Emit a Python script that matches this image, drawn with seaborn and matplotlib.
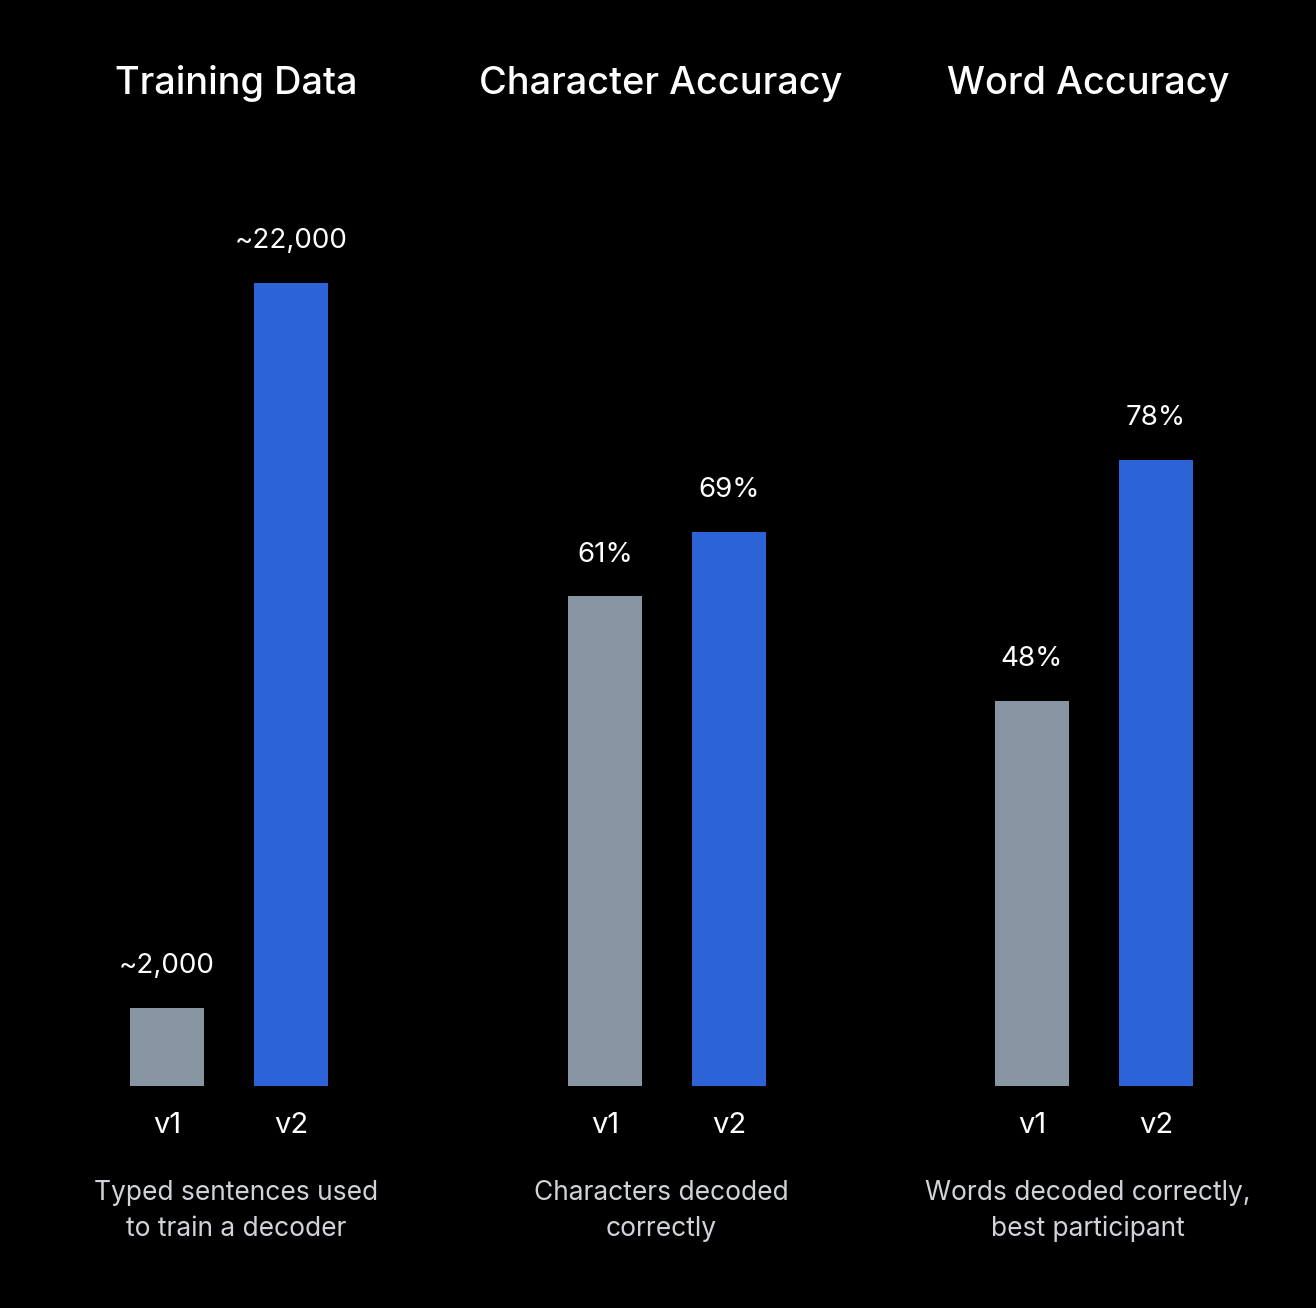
import matplotlib
matplotlib.use("Agg")
import matplotlib.pyplot as plt
import seaborn as sns
import pandas as pd

# data
versions = ['v1', 'v2']
panel_titles = ['Training Data', 'Character Accuracy', 'Word Accuracy']
panel_notes = ['Typed sentences used\nto train a decoder',
               'Characters decoded\ncorrectly',
               'Words decoded correctly,\nbest participant']
sentences = [2150, 22000]
char_acc = [61, 69]
word_acc = [48, 78]
sentences_labels = ['~2,000', '~22,000']
char_labels = ['61%', '69%']
word_labels = ['48%', '78%']
y_limits = [22000, 100, 100]

BG = '#000000'
GRAY = '#8895A2'
BLUE = '#2C64D8'
NOTE = '#D0D4D9'

sns.set_style("dark")
plt.rcParams['font.family'] = ['Inter', 'DejaVu Sans']
plt.rcParams['figure.facecolor'] = BG

W, H = 1316, 1308
fig = plt.figure(figsize=(W / 100, H / 100), dpi=100)

panel_values = [sentences, char_acc, word_acc]
panel_labels = [sentences_labels, char_labels, word_labels]
ax_lefts = [105, 543, 970]
text_centers = [236, 661, 1088]

ax_bottom = (H - 1086) / H
ax_height = (1086 - 283) / H
ax_width = 248 / W

for i in range(3):
    ax = fig.add_axes([ax_lefts[i] / W, ax_bottom, ax_width, ax_height])
    ax.set_facecolor(BG)
    df = pd.DataFrame({'version': versions, 'value': panel_values[i]})
    sns.barplot(data=df, x='version', y='value', hue='version',
                palette=[GRAY, BLUE], width=0.6, legend=False,
                saturation=1, linewidth=0, ax=ax)
    ax.set_xlim(-0.5, 1.5)
    ax.set_ylim(0, y_limits[i])
    ax.set_yticks([])
    ax.set_xlabel('')
    ax.set_ylabel('')
    ax.grid(False)
    for s in ax.spines.values():
        s.set_visible(False)
    ax.tick_params(axis='x', length=0, pad=19, labelsize=21, labelcolor='white')

    for j, v in enumerate(panel_values[i]):
        ax.annotate(panel_labels[i][j], (j, v), xytext=(0, 30),
                    textcoords='offset points', ha='center', va='center',
                    color='white', fontsize=20)

    fig.text(text_centers[i] / W, 1 - 84 / H, panel_titles[i],
             ha='center', va='center', color='white', fontsize=27.3,
             fontweight='medium')
    fig.text(text_centers[i] / W, 1 - 1211 / H, panel_notes[i],
             ha='center', va='center', color=NOTE, fontsize=19,
             linespacing=1.45)

fig.savefig('out.png', dpi=100, facecolor=BG)
